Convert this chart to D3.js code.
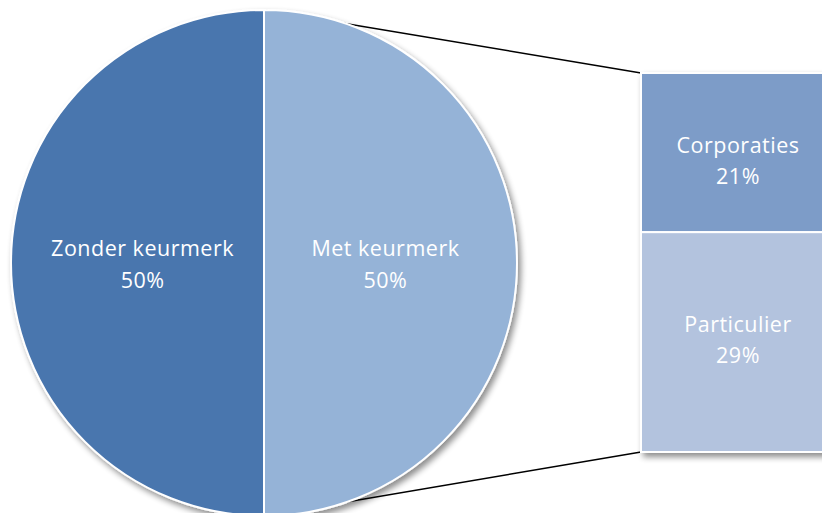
<!DOCTYPE html>
<html>
<head>
<meta charset="utf-8">
<script src="https://cdn.jsdelivr.net/npm/d3@7"></script>
<style>
  body { margin: 0; background: #fff; }
  svg { display: block; }
  text { font-family: "Open Sans", Lato, sans-serif; fill: #fff; font-size: 21.5px;
         font-variant-ligatures: none; letter-spacing: 0.5px; }
</style>
</head>
<body>
<svg id="chart" width="822" height="513"></svg>
<script>
// pie slices (clockwise from top)
const pieLabels = ["Met keurmerk", "Zonder keurmerk"];
const pieValues = [50, 50];
const pieColors = ["#95b3d7", "#4a76ae"];

// breakdown of "Met keurmerk"
const barLabels = ["Corporaties", "Particulier"];
const barValues = [21, 29];
const barColors = ["#7d9cc8", "#b3c3de"];

const svg = d3.select("#chart");

const cx = 264, cy = 263, r = 253;
const barX = 641, barW = 200, barTop = 73, barBottom = 452;

const defs = svg.append("defs");
const f = defs.append("filter").attr("id", "shadow")
  .attr("x", "-10%").attr("y", "-10%").attr("width", "130%").attr("height", "130%");
f.append("feGaussianBlur").attr("in", "SourceAlpha").attr("stdDeviation", 3);
f.append("feOffset").attr("dx", 3).attr("dy", 4).attr("result", "b");
f.append("feComponentTransfer").append("feFuncA").attr("type", "linear").attr("slope", 0.45);
const m = f.append("feMerge");
m.append("feMergeNode");
m.append("feMergeNode").attr("in", "SourceGraphic");

const total = d3.sum(barValues);
const y = d3.scaleLinear().domain([0, total]).range([barTop, barBottom]);

// connector lines
const lines = svg.append("g");
lines.append("line")
  .attr("x1", cx).attr("y1", cy - r).attr("x2", barX).attr("y2", y(0))
  .attr("stroke", "#000").attr("stroke-width", 1.5);
lines.append("line")
  .attr("x1", cx).attr("y1", cy + r).attr("x2", barX).attr("y2", y(total))
  .attr("stroke", "#000").attr("stroke-width", 1.5);

// pie
const pie = d3.pie().sort(null).startAngle(0).endAngle(2 * Math.PI);
const arcs = pie(pieValues);
const arc = d3.arc().innerRadius(0).outerRadius(r);
const pg = svg.append("g").attr("transform", `translate(${cx},${cy})`)
  .attr("filter", "url(#shadow)");
pg.selectAll("path").data(arcs).enter().append("path")
  .attr("d", arc)
  .attr("fill", (d, i) => pieColors[i])
  .attr("stroke", "#fff").attr("stroke-width", 2);

const labelArc = d3.arc().innerRadius(r * 0.48).outerRadius(r * 0.48);
const pl = svg.append("g").attr("transform", `translate(${cx},${cy})`);
arcs.forEach((d, i) => {
  const [lx, ly] = labelArc.centroid(d);
  const t = pl.append("text").attr("text-anchor", "middle")
    .attr("x", lx).attr("y", ly - 7);
  t.append("tspan").attr("x", lx).text(pieLabels[i]);
  t.append("tspan").attr("x", lx).attr("dy", 32).text(pieValues[i] + "%");
});

// bar of pie
let acc = 0;
const stack = barValues.map(v => { const s = { y0: acc, y1: acc + v }; acc += v; return s; });
const bg = svg.append("g").attr("filter", "url(#shadow)");
bg.selectAll("rect").data(stack).enter().append("rect")
  .attr("x", barX).attr("width", barW)
  .attr("y", d => y(d.y0)).attr("height", d => y(d.y1) - y(d.y0))
  .attr("fill", (d, i) => barColors[i])
  .attr("stroke", "#fff").attr("stroke-width", 2);

const bl = svg.append("g");
stack.forEach((d, i) => {
  const my = (y(d.y0) + y(d.y1)) / 2;
  const lx = barX + 97;
  const t = bl.append("text").attr("text-anchor", "middle").attr("y", my + (i === 0 ? 0 : -10));
  t.append("tspan").attr("x", lx).text(barLabels[i]);
  t.append("tspan").attr("x", lx).attr("dy", 31).text(barValues[i] + "%");
});
</script>
</body>
</html>
